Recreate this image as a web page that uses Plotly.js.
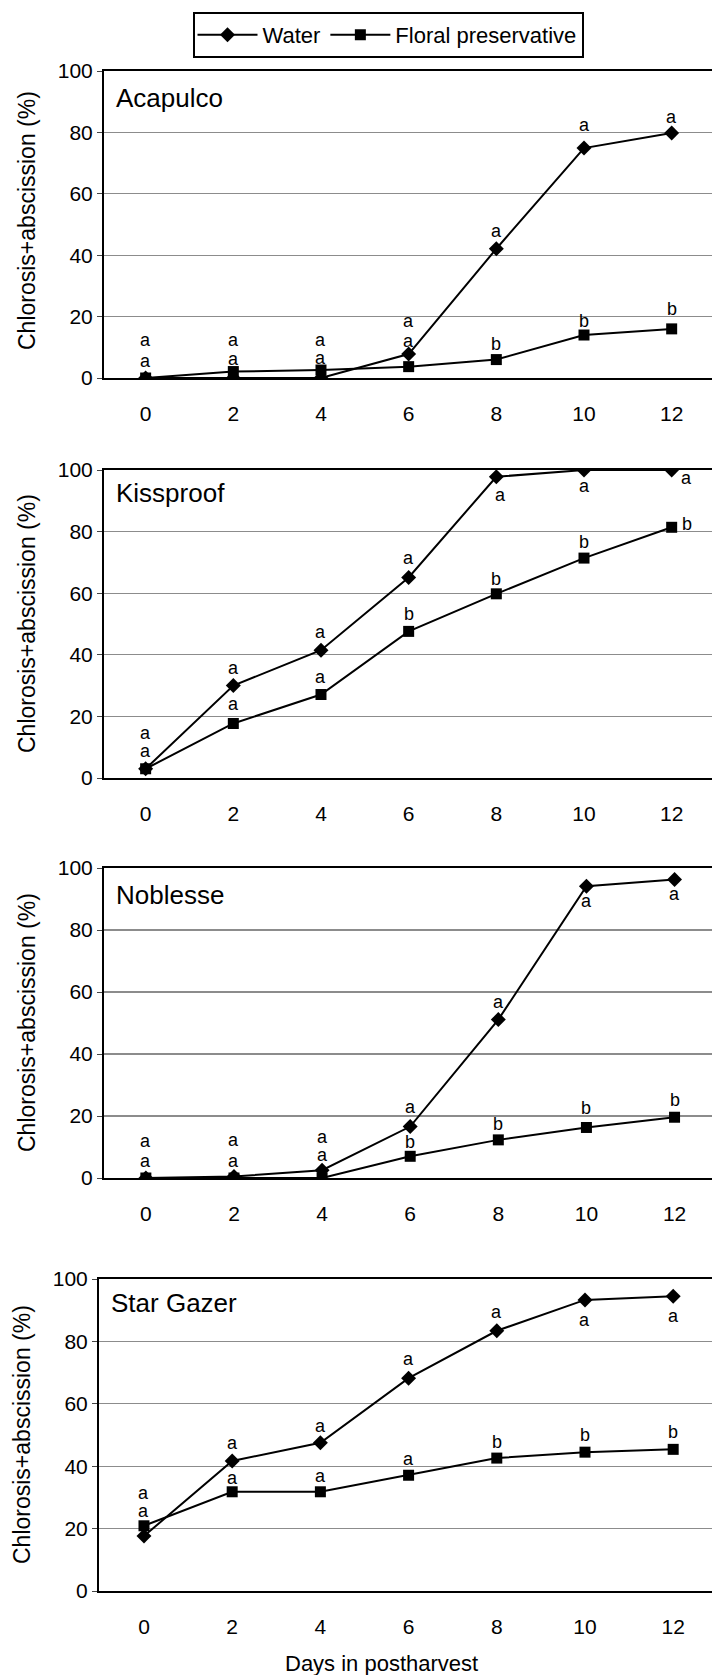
<!DOCTYPE html>
<html>
<head>
<meta charset="utf-8">
<script src="https://cdn.plot.ly/plotly-3.0.1.min.js"></script>
<style>
  html, body { margin: 0; padding: 0; background: #fff; overflow: hidden; }
  #chart { width: 712px; height: 1675px; }
</style>
</head>
<body>
<div id="chart"></div>
<script>
// ---- Data ----
const days = [0, 2, 4, 6, 8, 10, 12];
const cultivars = ['Acapulco', 'Kissproof', 'Noblesse', 'Star Gazer'];
const seriesNames = ['Water', 'Floral preservative'];
const yTicks = [0, 20, 40, 60, 80, 100];

const waterAcapulco   = [0, 0, 0, 7.8, 42.1, 74.9, 79.8];
const floralAcapulco  = [0, 2.1, 2.6, 3.7, 6.0, 14.0, 16.0];
const waterKissproof  = [3.0, 30.0, 41.5, 65.1, 97.8, 100, 100];
const floralKissproof = [3.0, 17.7, 27.1, 47.6, 59.8, 71.4, 81.4];
const waterNoblesse   = [0, 0.5, 2.5, 16.6, 51.1, 94.1, 96.3];
const floralNoblesse  = [0, 0, 0, 7.0, 12.3, 16.3, 19.6];
const waterStarGazer  = [17.6, 41.7, 47.5, 68.2, 83.4, 93.3, 94.5];
const floralStarGazer = [20.9, 31.8, 31.8, 37.1, 42.6, 44.5, 45.4];

// significance letters
const lettersWaterAcapulco   = ['a','a','a','a','a','a','a'];
const lettersFloralAcapulco  = ['a','a','a','a','b','b','b'];
const lettersWaterKissproof  = ['a','a','a','a','a','a','a'];
const lettersFloralKissproof = ['a','a','a','b','b','b','b'];
const lettersWaterNoblesse   = ['a','a','a','a','a','a','a'];
const lettersFloralNoblesse  = ['a','a','a','b','b','b','b'];
const lettersWaterStarGazer  = ['a','a','a','a','a','a','a'];
const lettersFloralStarGazer = ['a','a','a','a','b','b','b'];

// ---- Layout helpers (positions, styles) ----
const W = 712, H = 1675;
const px = v => v / W;
const py = v => 1 - v / H;

const panels = [
  { water: waterAcapulco, floral: floralAcapulco, lw: lettersWaterAcapulco, lf: lettersFloralAcapulco,
    top: 71, bottom: 378, left: 104, xr: [-0.95, 12.92], nameX: 114, nameY: 98, titleX: 27, titleY: 221,
    wy: [38, 38, 38, 33, 18, 23, 16], wx: [0,0,0,0,0,0,0],
    fy: [17, 13, 12, 26, 16, 14, 20], fx: [0,0,0,0,0,0,0] },
  { water: waterKissproof, floral: floralKissproof, lw: lettersWaterKissproof, lf: lettersFloralKissproof,
    top: 470, bottom: 778, left: 104, xr: [-0.95, 12.92], nameX: 114, nameY: 493, titleX: 27, titleY: 624,
    wy: [36, 18, 18, 19, -18, -16, -8], wx: [0,0,0,0,4,0,15],
    fy: [18, 19, 18, 17, 15, 16, 3], fx: [0,0,0,0,0,0,15] },
  { water: waterNoblesse, floral: floralNoblesse, lw: lettersWaterNoblesse, lf: lettersFloralNoblesse,
    top: 868, bottom: 1178, left: 104, xr: [-0.95, 12.85], nameX: 114, nameY: 895, titleX: 27, titleY: 1023,
    wy: [37, 36, 33, 20, 18, -15, -15], wx: [0,0,0,0,0,0,0],
    fy: [17, 17, 23, 14, 16, 19, 17], fx: [0,0,0,0,0,0,0] },
  { water: waterStarGazer, floral: floralStarGazer, lw: lettersWaterStarGazer, lf: lettersFloralStarGazer,
    top: 1279, bottom: 1591, left: 99, xr: [-1.02, 12.88], nameX: 109, nameY: 1303, titleX: 22, titleY: 1435,
    wy: [43, 18, 17, 19, 19, -20, -20], wx: [0,0,0,0,0,0,0],
    fy: [15, 14, 16, 16, 16, 17, 17], fx: [0,0,0,0,0,0,0] }
];

const FONT = 'Liberation Sans, Arial, Helvetica, sans-serif';
const traces = [];
const annotations = [];
const layout = {
  width: W, height: H,
  margin: { l: 0, r: 0, t: 0, b: 0 },
  paper_bgcolor: '#fff', plot_bgcolor: '#fff',
  font: { family: FONT, color: '#000' },
  showlegend: true,
  legend: {
    orientation: 'h', x: px(388), xanchor: 'center', y: py(12), yanchor: 'top',
    bordercolor: '#000', borderwidth: 2, bgcolor: '#fff',
    font: { size: 22, family: FONT, color: '#000' },
    itemwidth: 60, tracegroupgap: 0
  },
  annotations: annotations
};

panels.forEach((p, i) => {
  const n = i === 0 ? '' : String(i + 1);
  const xa = 'x' + n, ya = 'y' + n;
  layout['xaxis' + n] = {
    domain: [px(p.left), 1], range: p.xr, anchor: ya,
    showline: true, mirror: true, linecolor: '#000', linewidth: 2,
    ticks: '', tickvals: days, ticktext: days.map(String),
    tickfont: { size: 21, family: FONT, color: '#000' }, ticklabelstandoff: 16,
    showgrid: false, zeroline: false, fixedrange: true
  };
  layout['yaxis' + n] = {
    domain: [py(p.bottom), py(p.top)], range: [0, 100], anchor: xa,
    showline: true, linecolor: '#000', linewidth: 2,
    ticks: 'outside', ticklen: 5, tickcolor: '#444', tickwidth: 1,
    tickvals: yTicks, ticktext: yTicks.map(String),
    tickfont: { size: 21, family: FONT, color: '#000' },
    showgrid: true, gridcolor: '#8c8c8c', gridwidth: 1.2,
    zeroline: false, fixedrange: true
  };
  traces.push({
    x: days, y: p.water, xaxis: xa, yaxis: ya, type: 'scatter', mode: 'lines+markers',
    name: seriesNames[0], showlegend: i === 0, legendgroup: 'w',
    line: { color: '#000', width: 2 },
    marker: { symbol: 'diamond', size: 11.5, color: '#000' }
  });
  traces.push({
    x: days, y: p.floral, xaxis: xa, yaxis: ya, type: 'scatter', mode: 'lines+markers',
    name: seriesNames[1], showlegend: i === 0, legendgroup: 'f',
    line: { color: '#000', width: 2 },
    marker: { symbol: 'square', size: 11, color: '#000' }
  });
  // significance letters
  days.forEach((d, k) => {
    annotations.push({ x: d, y: p.water[k], xref: xa, yref: ya, text: p.lw[k], showarrow: false,
      xshift: p.wx[k], yshift: p.wy[k], borderpad: 0, font: { size: 18, family: FONT, color: '#000' } });
    annotations.push({ x: d, y: p.floral[k], xref: xa, yref: ya, text: p.lf[k], showarrow: false,
      xshift: p.fx[k], yshift: p.fy[k], borderpad: 0, font: { size: 18, family: FONT, color: '#000' } });
  });
  // cultivar name
  annotations.push({ x: px(p.nameX), y: py(p.nameY), xref: 'paper', yref: 'paper', text: cultivars[i],
    showarrow: false, xanchor: 'left', yanchor: 'middle', font: { size: 26, family: FONT, color: '#000' } });
  // y axis title
  annotations.push({ x: px(p.titleX), y: py(p.titleY), xref: 'paper', yref: 'paper',
    text: 'Chlorosis+abscission (%)', textangle: -90, showarrow: false,
    xanchor: 'center', yanchor: 'middle', font: { size: 23, family: FONT, color: '#000' } });
});

annotations.push({ x: px(381), y: py(1663), xref: 'paper', yref: 'paper', text: 'Days in postharvest',
  showarrow: false, xanchor: 'center', yanchor: 'middle', font: { size: 22, family: FONT, color: '#000' } });

Plotly.newPlot('chart', traces, layout, { staticPlot: true, displayModeBar: false });
</script>
</body>
</html>
